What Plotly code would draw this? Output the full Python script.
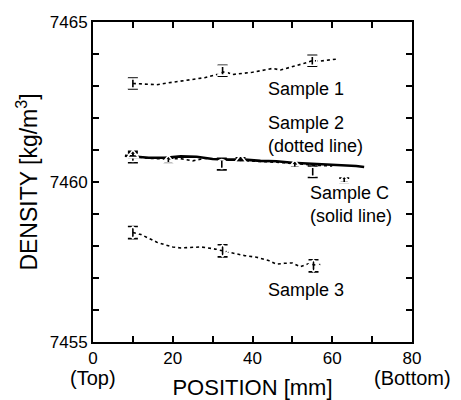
import plotly.graph_objects as go

# ---- data ----
s1_line_x = [10, 13, 16, 19, 22, 25, 28, 31, 33, 35, 37, 40, 43, 45, 47, 49, 51, 53, 55, 57, 59, 61]
s1_line_y = [7463.08, 7463.05, 7463.04, 7463.10, 7463.16, 7463.22, 7463.26, 7463.36, 7463.45, 7463.36, 7463.38, 7463.43, 7463.50, 7463.55, 7463.50, 7463.58, 7463.64, 7463.71, 7463.79, 7463.78, 7463.82, 7463.84]
s1_mx = [10, 32.5, 55]
s1_my = [7463.08, 7463.48, 7463.79]
s1_err = [0.17, 0.17, 0.17]

s2_line_x = [10, 14, 18, 22, 25, 28, 32, 36, 40, 44, 48, 52, 56, 60]
s2_line_y = [7460.80, 7460.74, 7460.72, 7460.73, 7460.66, 7460.74, 7460.70, 7460.68, 7460.67, 7460.63, 7460.60, 7460.55, 7460.52, 7460.50]
s2_mx = [10, 32.3, 55.1]
s2_my = [7460.78, 7460.56, 7460.32]
s2_err = [0.18, 0.18, 0.18]

sc_line_x = [8, 10, 14, 18, 22, 26, 30, 34, 38, 42, 46, 50, 54, 58, 62, 66, 68]
sc_line_y = [7460.82, 7460.80, 7460.76, 7460.76, 7460.80, 7460.79, 7460.72, 7460.70, 7460.70, 7460.66, 7460.65, 7460.60, 7460.58, 7460.55, 7460.52, 7460.50, 7460.47]
sc_mx = [10, 18.9, 37, 50.6, 63]
sc_my = [7460.84, 7460.67, 7460.69, 7460.53, 7460.05]
sc_err = [0.07, 0.07, 0.07, 0.07, 0.07]

s3_line_x = [10, 12, 14, 16, 18, 20, 22, 24, 27, 30, 32.5, 35, 38, 41, 44, 46, 48, 50, 52, 54, 56, 57]
s3_line_y = [7458.42, 7458.36, 7458.24, 7458.12, 7458.04, 7457.97, 7457.94, 7457.96, 7457.97, 7457.92, 7457.86, 7457.78, 7457.70, 7457.65, 7457.55, 7457.43, 7457.46, 7457.47, 7457.35, 7457.44, 7457.40, 7457.42]
s3_mx = [10, 32.5, 55.3]
s3_my = [7458.42, 7457.85, 7457.38]
s3_err = [0.19, 0.19, 0.19]

x_tickvals = [0, 20, 40, 60, 80]
x_ticktext = ["0", "20", "40", "60", "80"]
x_end_labels = {0: "(Top)", 80: "(Bottom)"}
y_tickvals = [7455, 7460, 7465]

FONT = "Liberation Sans, Arial, sans-serif"
BLACK = "black"

fig = go.Figure()

def dotted(x, y):
    fig.add_trace(go.Scatter(x=x, y=y, mode="lines",
                             line=dict(color=BLACK, width=1.6, dash="dot"),
                             showlegend=False, hoverinfo="skip"))

def markers(x, y, err, symbol, size=9):
    fig.add_trace(go.Scatter(x=x, y=y, mode="markers",
                             marker=dict(symbol=symbol, size=size, color="white",
                                         line=dict(color=BLACK, width=1.6)),
                             error_y=dict(type="data", array=err, color=BLACK,
                                          thickness=1.6, width=5),
                             showlegend=False))

dotted(s1_line_x, s1_line_y)
markers(s1_mx, s1_my, s1_err, "square-open", 9)
dotted(s2_line_x, s2_line_y)
fig.add_trace(go.Scatter(x=sc_line_x, y=sc_line_y, mode="lines",
                         line=dict(color=BLACK, width=2.6),
                         showlegend=False, hoverinfo="skip"))
markers(s2_mx, s2_my, s2_err, "circle-open", 9)
markers(sc_mx, sc_my, sc_err, "triangle-up-open", 10)
dotted(s3_line_x, s3_line_y)
markers(s3_mx, s3_my, s3_err, "diamond-open", 9)

ann_font = dict(family=FONT, size=18, color=BLACK)
fig.add_annotation(x=43.5, y=7462.9, text="Sample 1", showarrow=False,
                   xanchor="left", yanchor="middle", font=ann_font)
fig.add_annotation(x=43.5, y=7461.5, text="Sample 2<br>(dotted line)", showarrow=False,
                   xanchor="left", yanchor="middle", align="left", font=ann_font)
fig.add_annotation(x=53.9, y=7459.3, text="Sample C<br>(solid line)", showarrow=False,
                   xanchor="left", yanchor="middle", align="left", font=ann_font)
fig.add_annotation(x=43.5, y=7456.63, text="Sample 3", showarrow=False,
                   xanchor="left", yanchor="middle", font=ann_font)

for xv, txt in x_end_labels.items():
    fig.add_annotation(x=xv, xref="x", y=-0.112, yref="paper", text=txt,
                       showarrow=False, xanchor="center", yanchor="middle",
                       font=dict(family=FONT, size=20, color=BLACK))

fig.update_layout(
    width=461, height=400,
    margin=dict(l=93, r=49, t=22, b=58),
    paper_bgcolor="white", plot_bgcolor="white",
    font=dict(family=FONT, size=18, color=BLACK),
    showlegend=False,
)
fig.update_xaxes(
    range=[0, 80], tickvals=x_tickvals, ticktext=x_ticktext,
    ticks="inside", ticklen=6, tickwidth=1.5, tickcolor=BLACK,
    minor=dict(dtick=10, ticks="inside", ticklen=6, tickcolor=BLACK, tickwidth=1.5),
    showline=True, linecolor=BLACK, linewidth=2, mirror="allticks",
    showgrid=False, zeroline=False,
    tickfont=dict(size=17),
    title=dict(text="POSITION [mm]", font=dict(size=22), standoff=22),
    automargin=False,
)
fig.update_yaxes(
    range=[7455, 7465], tickvals=y_tickvals,
    ticks="inside", ticklen=6, tickwidth=1.5, tickcolor=BLACK,
    minor=dict(dtick=1, ticks="inside", ticklen=6, tickcolor=BLACK, tickwidth=1.5),
    showline=True, linecolor=BLACK, linewidth=2, mirror="allticks",
    showgrid=False, zeroline=False,
    tickfont=dict(size=17),
    title=dict(text="DENSITY [kg/m<sup>3</sup>]", font=dict(size=23), standoff=6),
    automargin=False,
)

fig.write_html("out.html")
